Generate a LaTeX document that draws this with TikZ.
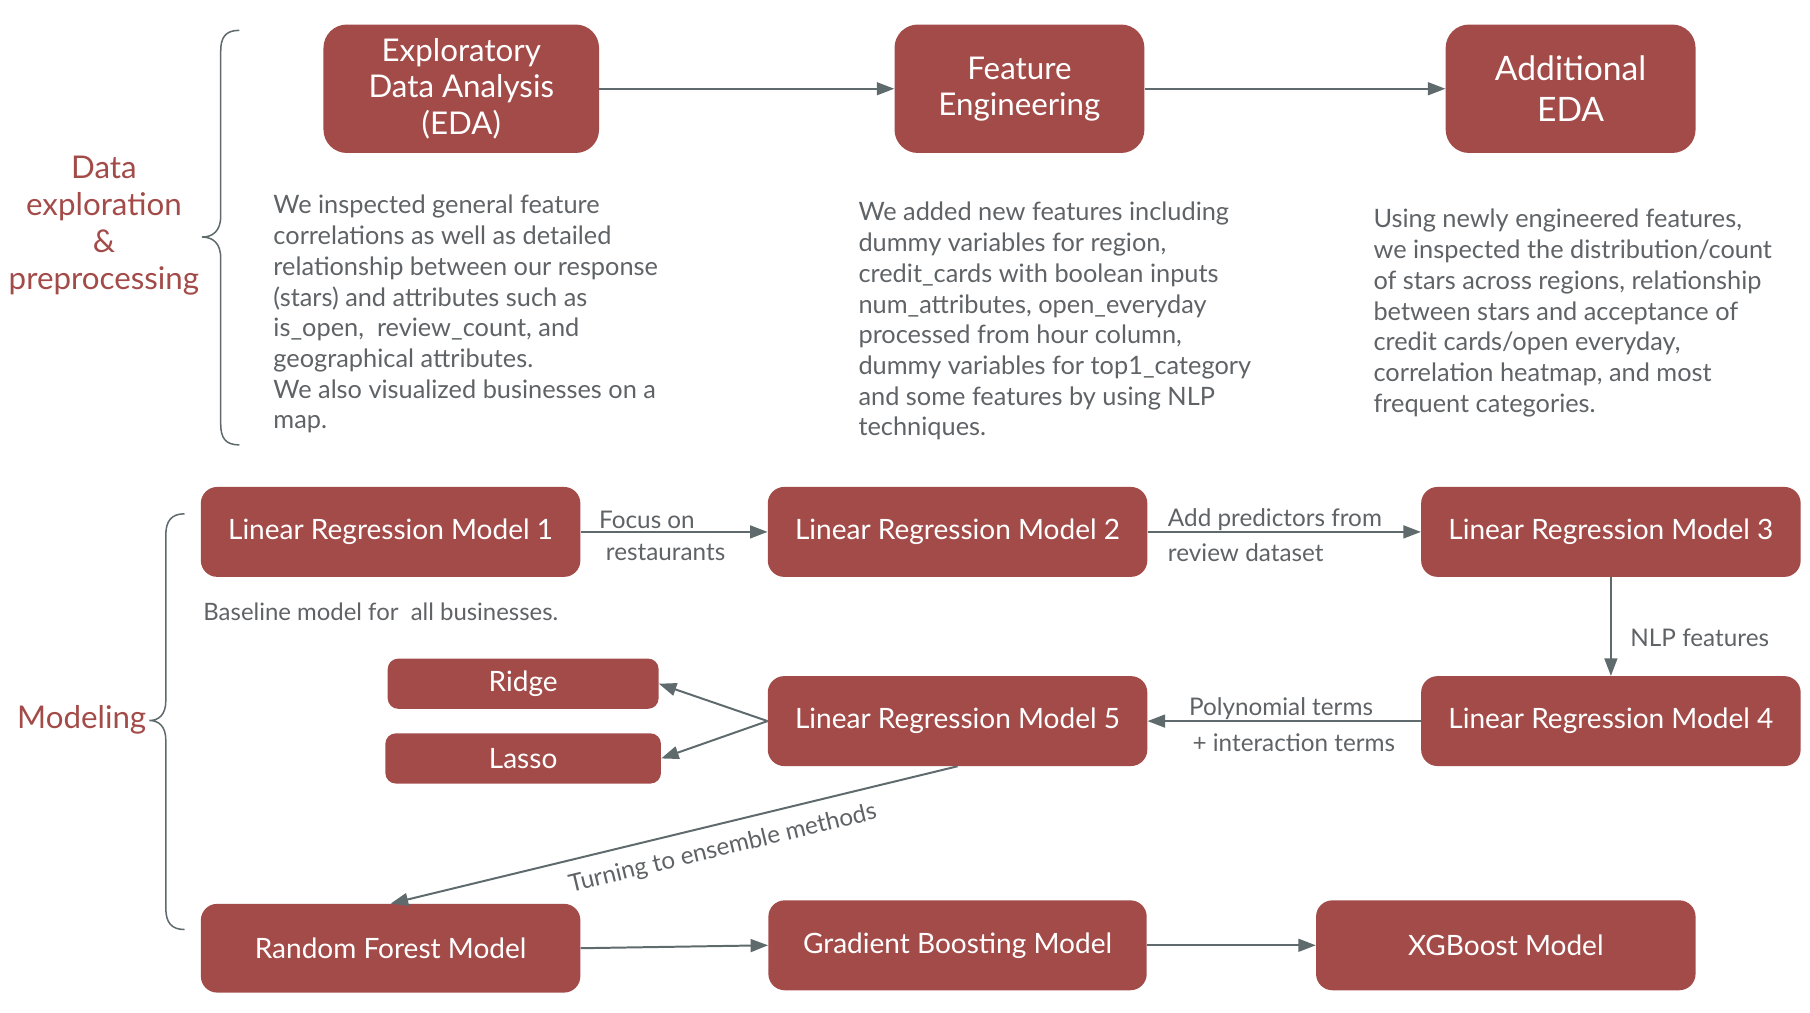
\documentclass[tikz,border=0pt]{standalone}
\usepackage{fontspec}
\setmainfont{Lato}
\usetikzlibrary{arrows.meta}
\definecolor{boxred}{HTML}{A34B49}
\definecolor{arrowgray}{HTML}{5F6A6D}
\definecolor{txtgray}{HTML}{5F6366}
\tikzset{
  box/.style={rectangle, rounded corners=14pt, fill=boxred, text=white, inner sep=0pt, align=center},
  topbox/.style={box, rounded corners=20pt, minimum height=110pt},
  modelbox/.style={box, minimum width=325pt, minimum height=77pt, font=\fontsize{24}{28}\selectfont},
  smallbox/.style={box, rounded corners=9pt, minimum height=43pt, font=\fontsize{24}{28}\selectfont},
  flow/.style={draw=arrowgray, line width=1.7pt, -{Triangle[length=15pt,width=11pt]}},
  bodytext/.style={text=txtgray, inner sep=0pt, anchor=north west, align=left, font=\fontsize{21.7}{26.3}\selectfont},
  edgelabel/.style={text=txtgray, inner sep=0pt, font=\fontsize{20.8}{24}\selectfont},
  section/.style={text=boxred, inner sep=0pt, align=center, font=\fontsize{26.8}{31.7}\selectfont},
  bracket/.style={draw=arrowgray, line width=1.3pt}
}
\begin{document}
\begin{tikzpicture}[x=1pt,y=-1pt]
\useasboundingbox (0,0) rectangle (1550,867);
% top row
\node[topbox, minimum width=236pt, font=\fontsize{26.8}{31}\selectfont] (eda) at (395,76) {Exploratory\\Data Analysis\\(EDA)};
\node[topbox, minimum width=214pt, font=\fontsize{26.8}{31}\selectfont] (fe) at (873,76) {Feature\\Engineering};
\node[topbox, minimum width=214pt, font=\fontsize{28.8}{35}\selectfont] (aeda) at (1345,76) {Additional\\EDA};
\draw[flow] (eda) -- (fe);
\draw[flow] (fe) -- (aeda);

\node[bodytext] (t1) at (234,167) {We inspected general feature\\correlations as well as detailed\\relationship between our response\\(stars) and attributes such as\\is\_open,\ \ review\_count, and\\geographical attributes.\\We also visualized businesses on a\\map.};
\node[bodytext] (t2) at (735,173) {We added new features including\\dummy variables for region,\\credit\_cards with boolean inputs\\num\_attributes, open\_everyday\\processed from hour column,\\dummy variables for top1\_category\\and some features by using NLP\\techniques.};
\node[bodytext] (t3) at (1176,179) {Using newly engineered features,\\we inspected the distribution/count\\of stars across regions, relationship\\between stars and acceptance of\\credit cards/open everyday,\\correlation heatmap, and most\\frequent categories.};

\node[section] (sec1) at (89,193) {Data\\exploration\\\&\\preprocessing};
\draw[bracket] (205,26) .. controls (193,26) and (189,32) .. (189,44) -- (189,185) .. controls (189,198) and (182,203) .. (173,203) .. controls (182,203) and (189,208) .. (189,221) -- (189,363) .. controls (189,375) and (193,381) .. (205,381);

% modeling
\node[modelbox] (m1) at (334.5,455.5) {Linear Regression Model 1};
\node[modelbox] (m2) at (820,455.5) {Linear Regression Model 2};
\node[modelbox] (m3) at (1379.5,455.5) {Linear Regression Model 3};
\node[modelbox] (m4) at (1379.5,617.5) {Linear Regression Model 4};
\node[modelbox] (m5) at (820,617.5) {Linear Regression Model 5};
\node[smallbox, minimum width=232pt] (ridge) at (448,585.5) {Ridge};
\node[smallbox, minimum width=236pt] (lasso) at (448,649.5) {Lasso};
\node[modelbox, minimum height=76pt] (rf) at (334.5,812) {Random Forest Model};
\node[modelbox, minimum width=324pt] (gb) at (820,809.5) {Gradient Boosting Model};
\node[modelbox] (xgb) at (1289.5,809.5) {XGBoost Model};

\draw[flow] (m1) -- (m2);
\draw[flow] (m2) -- (m3);
\draw[flow] (m3) -- (m4);
\draw[flow] (m4) -- (m5);
\draw[flow] (m5.west) -- (ridge.east);
\draw[flow] (m5.west) -- (lasso.east);
\draw[flow] (m5.south) -- (rf.north);
\draw[flow] (rf.east) -- (gb.west);
\draw[flow] (gb) -- (xgb);

\node[edgelabel] (l1a) at (554,445) {Focus on};
\node[edgelabel] (l1b) at (570,473) {restaurants};
\node[edgelabel, anchor=west] (l2a) at (1000,445) {Add predictors from};
\node[edgelabel, anchor=west] (l2b) at (1000,473) {review dataset};
\node[edgelabel, anchor=west] (l3) at (1396,546) {NLP features};
\node[edgelabel] (l4a) at (1097,607) {Polynomial terms};
\node[edgelabel] (l4b) at (1108,636) {+ interaction terms};
\node[edgelabel, rotate=13.6] (l5) at (619,727) {Turning to ensemble methods};
\node[edgelabel, anchor=west, font=\fontsize{20.5}{24}\selectfont] (base) at (174,524) {Baseline model for\ \ all businesses.};

\node[section] (sec2) at (70,616) {Modeling};
\draw[bracket] (158,440) .. controls (147,440) and (142,446) .. (142,458) -- (142,600) .. controls (142,612) and (136,617) .. (128,617) .. controls (136,617) and (142,622) .. (142,634) -- (142,778) .. controls (142,790) and (147,796) .. (158,796);
\end{tikzpicture}
\end{document}
